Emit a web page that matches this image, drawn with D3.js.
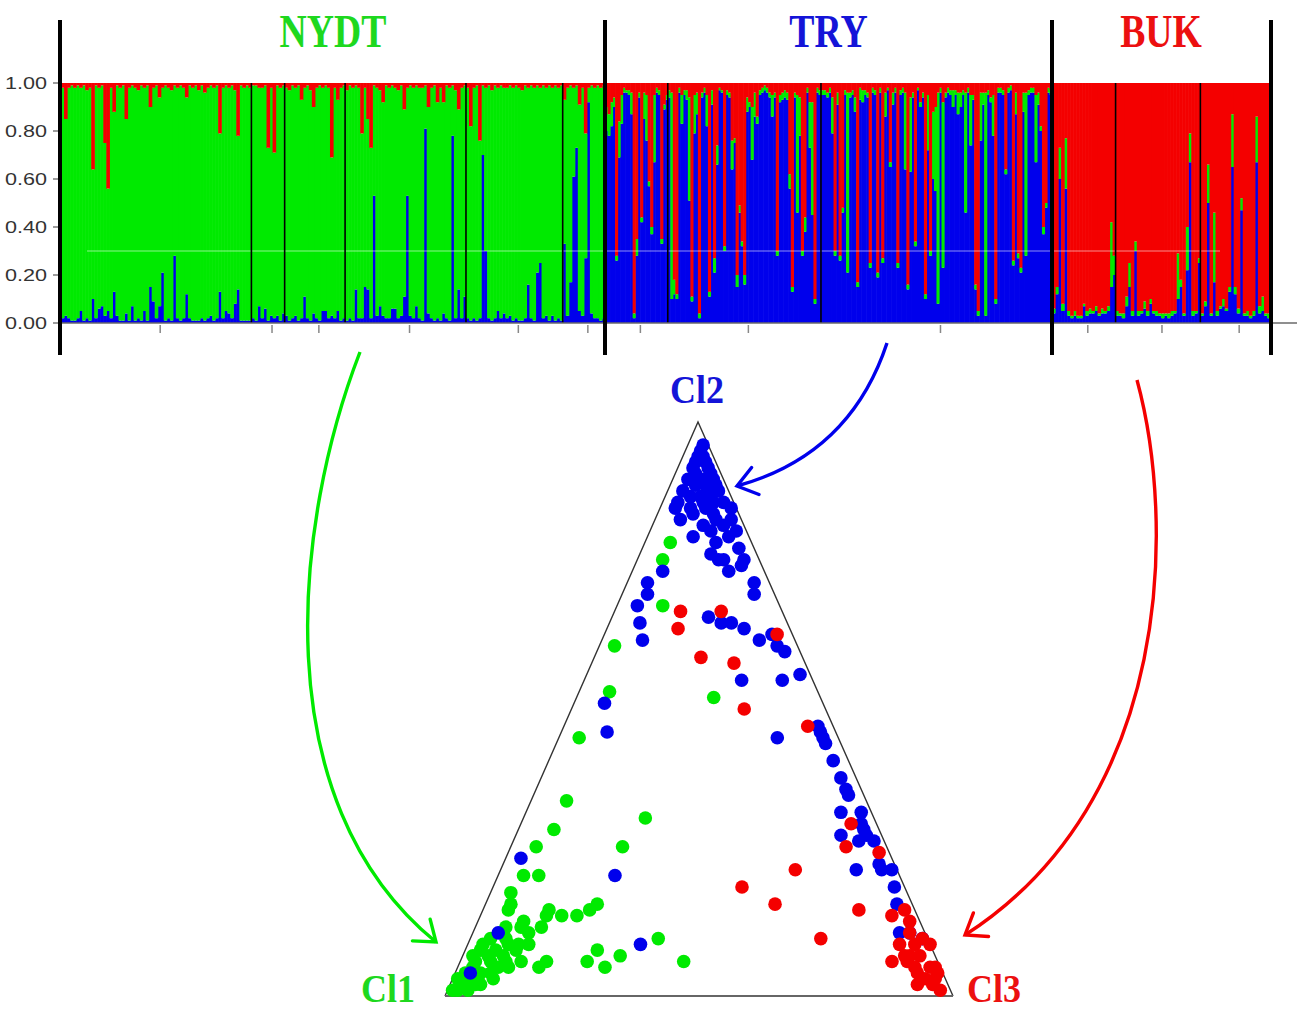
<!DOCTYPE html>
<html><head><meta charset="utf-8">
<script src="https://cdn.jsdelivr.net/npm/d3@7"></script>
<style>body{margin:0;background:#fff}svg{display:block}</style>
</head><body>
<svg id="chart" width="1297" height="1013"></svg>
<script>
// ---------------- DATA ----------------
const popNames = ["NYDT", "TRY", "BUK"];
const clusterNames = ["Cl1", "Cl2", "Cl3"];
const yTicks = [0, 0.2, 0.4, 0.6, 0.8, 1.0];

// NYDT individuals: % membership in Cl2 (blue) and Cl3 (red); Cl1 (green) is the rest
const nydtCl2 = [
 2,3,2,1,1,2,5,1,2,1,10,2,6,7,3,5,2,13,3,1,
 1,4,1,7,1,2,1,5,1,15,9,2,7,21,1,2,1,28,2,1,
 2,12,2,1,1,1,2,1,2,3,1,2,13,2,5,4,2,8,14,1,
 1,1,1,2,1,7,2,6,1,3,2,3,1,4,3,1,2,3,1,2,
 11,2,1,4,2,1,5,5,2,3,2,5,1,2,1,2,1,14,2,2,
 15,14,2,53,3,7,3,2,2,6,6,2,3,11,53,3,2,7,2,1,
 81,4,2,1,2,1,4,2,1,78,2,14,2,11,2,1,2,1,2,70,
 30,2,1,2,5,2,4,2,3,1,2,1,1,2,16,2,1,21,25,2,
 3,1,3,1,2,1,33,3,17,61,73,5,3,27,92,4,2,2,1,2];
const nydtCl3 = [
 2,15,2,1,2,1,2,1,3,2,36,1,2,1,25,44,2,12,1,2,
 1,15,2,1,2,3,1,2,1,10,2,1,6,2,1,2,3,1,2,1,
 2,6,1,2,1,3,1,4,2,1,2,1,21,2,1,2,1,3,22,1,
 2,1,2,1,1,2,2,1,27,2,29,1,2,1,2,3,1,2,1,7,
 2,1,3,10,2,1,2,1,2,31,2,7,2,1,3,1,2,1,2,21,
 2,15,27,1,2,3,8,1,2,1,2,3,1,11,2,1,2,1,2,2,
 1,10,2,1,8,2,8,1,2,1,3,11,2,1,2,18,2,1,24,1,
 2,1,3,1,2,1,2,2,1,2,1,2,3,1,2,1,2,1,2,1,
 2,1,2,1,2,1,7,2,1,2,1,9,2,21,2,1,2,1,2,1];
const nydtGroups = [63, 74, 94, 134, 166];

// TRY individuals: % Cl2 (blue) and Cl3 (red); Cl1 (green) is the rest
const tryCl2 = [
 80,78,82,90,26,69,83,96,96,95,87,2,28,94,42,85,76,57,37,67,
 96,95,33,89,93,94,10,12,10,96,83,95,93,51,9,79,87,2,94,96,
 82,11,91,21,66,97,96,30,95,94,64,75,15,46,32,16,88,90,68,86,
 83,95,96,97,96,94,86,94,28,92,93,94,93,56,13,94,46,78,28,38,
 96,73,45,8,96,95,95,95,94,96,79,28,91,26,46,95,21,94,95,88,
 15,93,92,95,94,23,96,95,19,96,25,86,97,65,91,96,23,95,96,64,
 14,63,94,32,97,90,94,10,72,28,60,55,8,96,23,94,96,95,90,95,
 87,90,95,46,96,74,93,14,3,76,91,3,95,92,78,8,96,96,95,62,
 96,97,24,87,27,21,88,28,95,96,96,67,91,80,37,48,96,95];
const tryCl3 = [
 10,13,8,6,72,16,5,2,3,3,4,96,65,4,56,4,5,41,60,5,
 2,3,65,9,5,3,4,82,88,2,5,3,3,6,89,5,4,96,4,2,
 5,87,3,73,26,2,3,68,3,4,24,23,80,51,66,80,6,8,10,4,
 14,3,2,1,2,4,5,4,70,5,4,3,4,38,85,4,5,6,70,56,
 2,8,8,90,2,3,3,3,4,2,6,70,4,72,52,3,4,4,3,6,
 83,2,3,3,4,75,2,3,79,2,73,4,2,33,4,2,75,3,2,4,
 84,6,4,66,2,8,4,88,5,70,12,10,4,2,8,4,2,3,3,3,
 4,4,3,4,2,5,5,84,95,4,4,4,3,6,5,90,2,2,3,36,
 2,1,74,4,71,77,4,4,3,2,2,5,4,18,60,50,2,3];
const tryGroups = [25, 86];

// BUK individuals: % Cl2 (blue) and Cl1 (green); Cl3 (red) is the rest
const bukCl2 = [
 4,12,60,5,56,3,2,3,2,2,7,3,4,4,5,3,4,4,5,15,
 20,3,3,2,7,15,3,30,3,4,6,3,8,4,3,3,2,3,2,3,
 4,10,15,3,22,67,3,4,25,3,7,50,3,17,3,6,7,5,13,65,
 12,4,47,3,3,2,3,67,4,5,3,2];
const bukCl1 = [
 2,3,13,3,21,2,1,2,1,1,1,2,2,1,2,1,2,1,2,27,
 8,2,1,2,4,10,2,4,2,1,3,2,2,1,2,1,2,1,2,2,
 1,19,3,1,18,12,2,1,2,1,2,16,1,29,2,1,3,1,2,22,
 3,2,5,1,2,1,2,19,3,6,1,2];
const bukGroups = [21, 49];

// Triangle plot points, [% Cl2, % Cl3] (Cl1 is the rest)
const triNYDT = [[79,5],[76,5],[68,9],[61,3],[53,6],[52,27],[45,4],[34,7],[31,24],[29,7],[26,22],[26,5],
 [21,5],[21,8],[18,4],[16,5],[15,13],[14,13],[14,16],[14,19],[15,21],[16,22],[15,5],[13,9],[12,9],[12,13],
 [11,11],[10,37],[8,26],[6,25],[5,29],[7,31],[6,44],[6,17],[5,16],[9,12],[10,4],[9,8],[9,10],[8,3],[8,6],
 [8,10],[6,3],[6,6],[6,9],[6,12],[5,3],[4,5],[5,8],[5,10],[3,3],[2,6],[3,8],[2,5],[2,2],[11,6],[9,3],[7,2],
 [1,2],[4,2],[3,1],[1,1],[4,7],[7,8],[10,7],[7,5],[3,5],[12,6],[1,4]];
const triTRY = [[95,3],[94,4],[93,3],[92,6],[92,3],[91,7],[90,6],[90,3],[89,9],[89,5],[88,8],[88,3],[88,10],
 [86,3],[87,7],[86,10],[86,12],[85,3],[85,6],[85,9],[85,14],[83,5],[83,12],[83,15],[82,14],[81,17],[80,9],
 [78,19],[76,21],[77,14],[76,17],[76,16],[74,19],[75,21],[72,25],[70,26],[74,6],[72,4],[70,5],[68,4],[65,6],
 [62,8],[51,6],[46,9],[24,3],[21,23],[9,34],[11,5],[4,3],[66,19],[65,22],[65,24],[64,27],[62,31],[63,33],
 [61,35],[60,37],[55,31],[55,39],[56,42],[45,43],[47,50],[46,51],[45,52],[44,53],[41,56],[38,59],[36,61],
 [35,62],[32,62],[32,66],[30,67],[29,68],[28,64],[27,68],[28,69],[27,71],[23,74],[22,75],[22,77],[22,70],
 [19,79],[16,81],[11,84],[11,86],[10,89],[96,3],[94,3],[90,8],[87,5],[80,16],[82,10],[86,8],
 [93,5],[91,4],[89,7],[87,9],[84,7],[84,11],[81,12],[79,14]];
const triBUK = [[67,13],[64,14],[67,21],[63,34],[59,21],[58,28],[50,34],[47,48],[30,65],[26,66],[25,73],
 [22,58],[19,49],[16,57],[15,74],[14,81],[15,83],[13,85],[10,69],[6,85],[9,88],[10,89],[7,88],[7,90],[5,90],
 [5,93],[3,93],[3,95],[2,95],[1,97],[6,88],[7,87],[4,91],[9,91],[5,94],[2,92],[4,95],[11,86],[9,85]];

// ---------------- DRAWING ----------------
const colors = {Cl1: "#00ea00", Cl2: "#0000ec", Cl3: "#f40000"};
const textColors = {Cl1: "#1ed81e", Cl2: "#1414d8", Cl3: "#ec1010"};
const svg = d3.select("#chart");
svg.append("rect").attr("width", 1297).attr("height", 1013).attr("fill", "#fff");

const toRows = (a, b, keyA, keyB, keyRest) => a.map((v, i) => {
  const r = {}; r[keyA] = v / 100; r[keyB] = b[i] / 100; r[keyRest] = (100 - v - b[i]) / 100; return r;
});
const pops = [
  {name: popNames[0], cl: "Cl1", range: [61, 605], rows: toRows(nydtCl2, nydtCl3, "Cl2", "Cl3", "Cl1"), groups: nydtGroups},
  {name: popNames[1], cl: "Cl2", range: [605, 1052], rows: toRows(tryCl2, tryCl3, "Cl2", "Cl3", "Cl1"), groups: tryGroups},
  {name: popNames[2], cl: "Cl3", range: [1052, 1270], rows: toRows(bukCl2, bukCl1, "Cl2", "Cl1", "Cl3"), groups: bukGroups}
];

const y = d3.scaleLinear().domain([0, 1]).range([323, 83]);
const stackKeys = ["Cl2", "Cl1", "Cl3"]; // bottom to top

pops.forEach(p => {
  const n = p.rows.length;
  const x = d3.scaleBand().domain(d3.range(n)).range(p.range).padding(0);
  p.x = x;
  const series = d3.stack().keys(stackKeys)(p.rows);
  const g = svg.append("g");
  series.forEach(s => {
    g.selectAll(null).data(s).join("rect")
      .attr("x", (d, i) => x(i)).attr("width", x.bandwidth() + 0.6)
      .attr("y", d => y(d[1])).attr("height", d => Math.max(0, y(d[0]) - y(d[1])))
      .attr("fill", colors[s.key]);
  });
});

// faint scan artefact line
svg.append("line").attr("x1", 87).attr("x2", 1220).attr("y1", y(0.3)).attr("y2", y(0.3))
  .attr("stroke", "rgba(255,255,255,0.55)").attr("stroke-width", 1);

// subgroup separators and ticks
pops.forEach(p => {
  const x = p.x, n = p.rows.length;
  svg.append("g").selectAll("line").data(p.groups).join("line")
    .attr("x1", d => x(d)).attr("x2", d => x(d)).attr("y1", y(1)).attr("y2", y(0))
    .attr("stroke", "#000").attr("stroke-width", 1.6);
  const bounds = [0, ...p.groups, n];
  const centers = d3.range(bounds.length - 1).map(k => (x(bounds[k]) + x(bounds[k + 1] - 1) + x.bandwidth()) / 2 + 4);
  svg.append("g").selectAll("line").data(centers).join("line")
    .attr("x1", d => d).attr("x2", d => d).attr("y1", y(0) + 2).attr("y2", y(0) + 10)
    .attr("stroke", "#888").attr("stroke-width", 1.5);
});

// x axis baseline
svg.append("line").attr("x1", 60).attr("x2", 1297).attr("y1", y(0)).attr("y2", y(0))
  .attr("stroke", "#6a6a6a").attr("stroke-width", 1.6);

// y axis ticks + labels
const yAxis = svg.append("g").attr("transform", "translate(60,0)");
yAxis.selectAll("line").data(yTicks).join("line")
  .attr("x1", -7).attr("x2", 0).attr("y1", d => y(d)).attr("y2", d => y(d))
  .attr("stroke", "#666").attr("stroke-width", 1.3);
yAxis.selectAll("text").data(yTicks).join("text")
  .attr("transform", d => `translate(-13,${y(d)}) scale(1.35,1)`)
  .attr("text-anchor", "end").attr("dy", "0.36em")
  .attr("font-family", "Liberation Sans, Arial, sans-serif").attr("font-size", 16)
  .attr("fill", "#333").text(d => d3.format(".2f")(d));

// population separators
const seps = [pops[0].range[0] - 1, pops[0].range[1], pops[1].range[1], pops[2].range[1] + 1];
svg.append("g").selectAll("line").data(seps).join("line")
  .attr("x1", d => d).attr("x2", d => d).attr("y1", 20).attr("y2", 355)
  .attr("stroke", "#000").attr("stroke-width", 4);

// population titles
svg.append("g").selectAll("text").data(pops).join("text")
  .attr("transform", p => `translate(${(p.range[0] + p.range[1]) / 2},47) scale(0.82,1)`)
  .attr("text-anchor", "middle")
  .attr("font-family", "Liberation Serif, Times New Roman, serif").attr("font-weight", "bold")
  .attr("font-size", 46).attr("fill", p => textColors[p.cl]).text(p => p.name);

// ---------------- TRIANGLE ----------------
const V = {Cl1: [445, 996], Cl2: [698, 422], Cl3: [953, 996]};
const proj = (c2, c3) => {
  const q2 = c2 / 100, q3 = c3 / 100, q1 = 1 - q2 - q3;
  return [q1 * V.Cl1[0] + q2 * V.Cl2[0] + q3 * V.Cl3[0], q1 * V.Cl1[1] + q2 * V.Cl2[1] + q3 * V.Cl3[1]];
};
svg.append("path")
  .attr("d", `M${V.Cl1}L${V.Cl2}L${V.Cl3}`)
  .attr("fill", "none").attr("stroke", "#333").attr("stroke-width", 1.4);
svg.append("line").attr("x1", V.Cl1[0]).attr("x2", V.Cl3[0]).attr("y1", V.Cl1[1]).attr("y2", V.Cl3[1])
  .attr("stroke", "#666").attr("stroke-width", 2.2);

const triSets = [{pts: triNYDT, cl: "Cl1"}, {pts: triTRY, cl: "Cl2"}, {pts: triBUK, cl: "Cl3"}];
triSets.forEach(s => {
  svg.append("g").selectAll("circle").data(s.pts).join("circle")
    .attr("cx", d => proj(d[0], d[1])[0]).attr("cy", d => proj(d[0], d[1])[1])
    .attr("r", 6.8).attr("fill", colors[s.cl]);
});

// corner labels
const labelPos = {Cl2: [697, 403], Cl1: [388, 1002], Cl3: [994, 1002]};
svg.append("g").selectAll("text").data(clusterNames).join("text")
  .attr("transform", d => `translate(${labelPos[d][0]},${labelPos[d][1]}) scale(0.9,1)`)
  .attr("text-anchor", "middle")
  .attr("font-family", "Liberation Serif, Times New Roman, serif").attr("font-weight", "bold")
  .attr("font-size", 40).attr("fill", d => textColors[d]).text(d => d);

// ---------------- ARROWS ----------------
const defs = svg.append("defs");
["Cl1", "Cl2", "Cl3"].forEach(c => {
  defs.append("marker").attr("id", "ah" + c).attr("markerUnits", "userSpaceOnUse")
    .attr("markerWidth", 44).attr("markerHeight", 44).attr("refX", 22).attr("refY", 22)
    .attr("viewBox", "0 0 44 44").attr("orient", "auto")
    .append("path").attr("d", "M3,8 L22,22 L3,36").attr("fill", "none")
    .attr("stroke", colors[c]).attr("stroke-width", 3.4).attr("stroke-linecap", "round");
});
const arrows = [
  {cl: "Cl1", d: "M360,352 C295,520 262,800 436,942"},
  {cl: "Cl2", d: "M887,343 Q850,455 737,486"},
  {cl: "Cl3", d: "M1137,380 C1175,520 1175,800 965,935"}
];
svg.append("g").selectAll("path").data(arrows).join("path")
  .attr("d", a => a.d).attr("fill", "none").attr("stroke", a => colors[a.cl])
  .attr("stroke-width", 3.4).attr("marker-end", a => `url(#ah${a.cl})`);
</script>
</body></html>
